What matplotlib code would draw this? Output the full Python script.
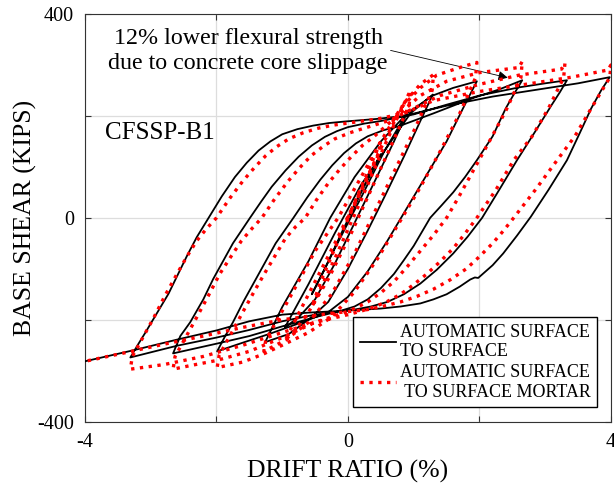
import matplotlib
matplotlib.use("Agg")
import matplotlib.pyplot as plt

plt.rcParams["font.family"] = ["Liberation Serif", "DejaVu Serif"]
plt.rcParams["axes.unicode_minus"] = False

# black: automatic surface to surface (path, one loop after another)
black_drift = [
    0.0, 0.25, 0.5,
    0.2, -0.1, -0.35, -0.55,
    -0.2, 0.2, 0.55, 0.9,
    0.7, 0.4, 0.1, -0.2, -0.5, -0.75, -0.96,
    -0.6, -0.2, 0.2, 0.6, 0.95, 1.29,
    1.1, 0.85, 0.55, 0.3, 0.0, -0.3, -0.6, -0.9, -1.26,
    -1.0, -0.6, -0.27, 0.1, 0.5, 0.9, 1.29, 1.6, 1.96,
    1.75, 1.5, 1.2, 0.9, 0.6, 0.3, 0.0, -0.3, -0.7, -1.2, -1.6, -1.99,
    -1.88, -1.75, -1.58, -1.4, -1.1, -0.83, -0.62, -0.42, -0.24, -0.06, 0.12, 0.3, 0.54, 0.78, 1.3, 1.9, 2.3, 2.65,
    2.52, 2.4, 2.2, 1.96, 1.78, 1.6, 1.42, 1.25, 1.0, 0.85, 0.7, 0.5, 0.3, 0.1, -0.1, -0.5, -1.0, -1.5, -2.0, -2.66,
    -2.55, -2.4, -2.2, -2.05, -1.75, -1.49, -1.32, -1.16, -0.95, -0.75, -0.55, -0.35, -0.17, 0.0, 0.25, 0.5, 1.0, 1.5, 2.0, 2.6, 3.0, 3.33,
    3.22, 3.1, 2.85, 2.57, 2.3, 2.04, 1.82, 1.6, 1.35, 1.1, 0.85, 0.6, 0.35, 0.1, -0.5, -1.0, -1.5, -2.0, -2.6, -3.31,
    -3.2, -3.09, -2.9, -2.73, -2.45, -2.3, -2.12, -1.92, -1.72, -1.54, -1.36, -1.18, -1.0, -0.77, -0.53, -0.29, -0.05, 0.43, 0.85, 1.5, 2.2, 2.9, 3.5, 3.98,
    3.85, 3.7, 3.52, 3.33, 3.05, 2.78, 2.57, 2.36, 2.2, 2.05, 1.98, 1.93, 1.86, 1.7, 1.5, 1.3, 1.1, 0.8, 0.5, 0.0, -0.6, -1.0, -1.5, -2.0, -2.6, -3.3, -4.05,
]
black_shear = [
    0, 65, 125,
    50, -30, -100, -150,
    -60, 40, 130, 207,
    150, 70, -10, -90, -160, -195, -215,
    -130, -30, 65, 140, 205, 242,
    190, 120, 40, -25, -100, -165, -200, -228, -244,
    -175, -85, 0, 80, 150, 205, 240, 255, 268,
    215, 150, 85, 20, -45, -105, -155, -185, -205, -228, -245, -262,
    -235, -205, -162, -120, -50, 0, 40, 75, 103, 127, 146, 160, 172, 180, 205, 235, 252, 270,
    242, 215, 160, 113, 80, 50, 24, 0, -55, -83, -110, -138, -160, -174, -182, -195, -213, -232, -247, -266,
    -232, -205, -160, -120, -50, 0, 32, 61, 93, 120, 142, 159, 170, 178, 185, 190, 203, 222, 240, 256, 264, 270,
    246, 222, 170, 113, 55, 0, -37, -70, -102, -129, -150, -165, -174, -180, -190, -203, -220, -235, -251, -274,
    -250, -227, -186, -149, -75, -38, 0, 42, 80, 108, 132, 150, 164, 174, 181, 186, 189, 194, 200, 220, 238, 252, 264, 276,
    250, 215, 165, 113, 55, 2, -35, -70, -93, -110, -118, -117, -121, -135, -150, -160, -168, -174, -178, -182, -186, -190, -203, -221, -239, -261, -283,
]

# red: automatic surface to surface mortar
red_drift = [
    0.0, 0.25, 0.5,
    0.45, 0.15, -0.15, -0.4, -0.55,
    -0.2, 0.2, 0.55, 0.8, 0.95,
    0.93, 0.65, 0.35, 0.05, -0.3, -0.6, -0.8, -0.96,
    -0.6, -0.2, 0.2, 0.55, 0.85, 1.1, 1.3,
    1.28, 1.0, 0.7, 0.4, 0.1, -0.25, -0.6, -0.95, -1.28,
    -1.25, -0.9, -0.5, -0.15, 0.2, 0.5, 0.8, 1.1, 1.35, 1.7, 1.96,
    1.94, 1.7, 1.4, 1.1, 0.8, 0.45, 0.1, -0.25, -0.6, -1.0, -1.3, -1.6, -1.99,
    -1.96, -1.78, -1.6, -1.42, -1.25, -0.95, -0.8, -0.65, -0.48, -0.3, -0.12, 0.05, 0.22, 0.4, 0.75, 1.1, 1.5, 2.0, 2.6, 2.65,
    2.63, 2.4, 2.15, 1.85, 1.68, 1.5, 1.3, 1.1, 0.9, 0.7, 0.5, 0.3, 0.1, -0.1, -0.5, -1.0, -1.5, -2.0, -2.4, -2.66,
    -2.63, -2.47, -2.3, -2.12, -1.95, -1.78, -1.62, -1.46, -1.31, -1.11, -0.91, -0.73, -0.56, -0.38, -0.2, 0.03, 0.25, 0.65, 1.0, 1.4, 2.0, 2.6, 3.25, 3.3,
    3.28, 3.05, 2.8, 2.52, 2.25, 1.96, 1.78, 1.6, 1.4, 1.2, 1.0, 0.8, 0.6, 0.4, 0.2, 0.0, -0.5, -1.0, -1.6, -2.2, -2.8, -3.31,
    -3.28, -3.12, -2.95, -2.78, -2.6, -2.45, -2.3, -2.15, -2.0, -1.8, -1.6, -1.42, -1.25, -1.08, -0.9, -0.68, -0.45, -0.22, 0.0, 0.45, 0.85, 1.3, 2.0, 2.7, 3.4, 3.95, 4.0,
    3.98, 3.84, 3.7, 3.45, 3.18, 2.85, 2.52, 2.36, 2.2, 2.0, 1.8, 1.55, 1.3, 1.05, 0.8, 0.55, 0.3, -0.3, -1.0, -1.6, -2.2, -2.8, -3.4, -4.05,
]
red_shear = [
    0, 75, 150,
    120, 40, -45, -120, -175,
    -80, 35, 140, 210, 250,
    220, 140, 55, -30, -120, -185, -220, -241,
    -150, -50, 55, 150, 225, 262, 281,
    250, 170, 90, 10, -70, -150, -205, -240, -262,
    -240, -160, -65, 0, 80, 150, 215, 255, 280, 295, 305,
    275, 205, 130, 60, -5, -80, -145, -195, -225, -250, -268, -283, -294,
    -270, -228, -185, -143, -105, -40, -18, 0, 35, 68, 96, 120, 142, 160, 200, 240, 268, 285, 295, 307,
    275, 210, 150, 80, 40, 0, -34, -65, -96, -125, -147, -165, -178, -188, -205, -235, -262, -280, -290, -297,
    -272, -235, -195, -152, -110, -76, -45, -21, 0, 38, 72, 99, 122, 140, 155, 167, 176, 192, 215, 240, 262, 280, 292, 304,
    275, 215, 160, 113, 55, 0, -31, -60, -86, -110, -131, -150, -164, -175, -183, -190, -205, -225, -250, -272, -288, -297,
    -272, -235, -195, -152, -110, -76, -45, -21, 0, 38, 72, 99, 122, 140, 155, 167, 176, 182, 186, 194, 205, 230, 248, 262, 276, 290, 300,
    275, 245, 215, 160, 113, 55, 0, -26, -50, -76, -100, -122, -140, -154, -165, -173, -180, -188, -200, -215, -232, -248, -265, -283,
]

x_ticks = [-4, -2, 0, 2, 4]
x_labels = ["-4", "", "0", "", "4"]
y_ticks = [-400, -200, 0, 200, 400]
y_labels = ["-400", "", "0", "", "400"]

fig = plt.figure(figsize=(6.14, 4.83), dpi=100)
ax = fig.add_axes([0.1384, 0.127, 0.8567, 0.844])

ax.plot(black_drift, black_shear, color="black", lw=1.3,
        label="AUTOMATIC SURFACE\nTO SURFACE", zorder=3)
ax.plot(red_drift, red_shear, color="red", lw=2.4, ls=":",
        label="AUTOMATIC SURFACE\n TO SURFACE MORTAR", zorder=4)

ax.set_xlim(-4, 4)
ax.set_ylim(-400, 400)
ax.set_xticks(x_ticks)
ax.set_xticklabels(x_labels)
ax.set_yticks(y_ticks)
ax.set_yticklabels(y_labels)
ax.tick_params(direction="in", top=True, right=True, labelsize=14.5, length=4,
               color="#333333", pad=8)
ax.grid(True, color="#dddddd", lw=0.9, zorder=0)
for s in ax.spines.values():
    s.set_color("#333333")

ax.set_xlabel("DRIFT RATIO (%)", fontsize=18.5, labelpad=6)
ax.set_ylabel("BASE SHEAR (KIPS)", fontsize=18.5, labelpad=0)

ax.text(-3.7, 166, "CFSSP-B1", fontsize=18, va="center", ha="left")
ax.annotate("12% lower flexural strength\ndue to concrete core slippage",
            xy=(2.43, 275), xytext=(-1.52, 328), fontsize=17.3,
            ha="center", va="center", linespacing=1.27,
            arrowprops=dict(arrowstyle="-|>", color="black", lw=0.6,
                            mutation_scale=14, shrinkA=0, shrinkB=0,
                            relpos=(1.0, 0.52)))

leg = ax.legend(loc="lower right", bbox_to_anchor=(0.99, 0.014), fontsize=13,
                frameon=True, fancybox=False, framealpha=1, edgecolor="black",
                handlelength=2.0, handletextpad=0.2, borderpad=0.35,
                labelspacing=0.2)
leg.get_frame().set_linewidth(1.0)

fig.savefig("out.png", dpi=100)
